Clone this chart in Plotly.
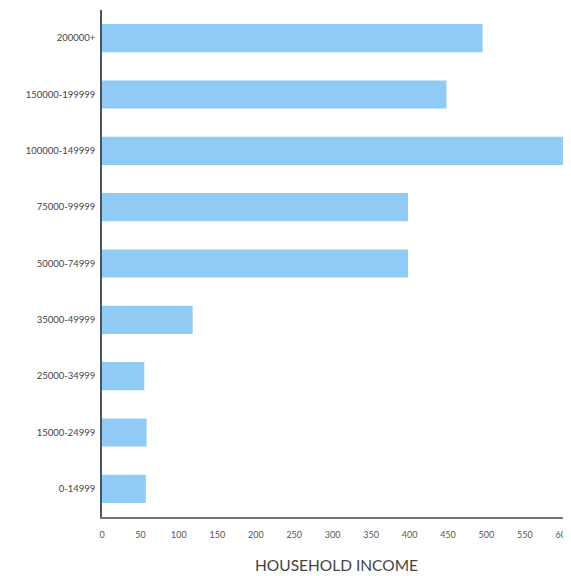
import plotly.graph_objects as go

categories = ["200000+", "150000-199999", "100000-149999", "75000-99999",
              "50000-74999", "35000-49999", "25000-34999", "15000-24999", "0-14999"]
values = [495, 448, 650, 398, 398, 118, 55, 58, 57]
x_ticks = [0, 50, 100, 150, 200, 250, 300, 350, 400, 450, 500, 550, 600]

fig = go.Figure(go.Bar(
    y=categories, x=values, orientation="h",
    marker=dict(color="#8FCBF4", line=dict(width=0)),
))

fig.update_layout(
    width=563, height=568,
    margin=dict(l=94, r=0, t=2, b=59),
    paper_bgcolor="white", plot_bgcolor="white",
    bargap=0.5,
    showlegend=False,
    font=dict(family="Lato, sans-serif", color="#444"),
)
fig.update_yaxes(
    categoryorder="array", categoryarray=categories[::-1],
    showline=True, linecolor="#4a5560", linewidth=1.5,
    showgrid=False, ticks="", tickfont=dict(size=9.5, color="#444"),
    ticklabelstandoff=3, automargin=False,
)
fig.update_xaxes(
    range=[0, 610], tickvals=x_ticks,
    showline=True, linecolor="#777", linewidth=2,
    showgrid=False, zeroline=False, ticks="",
    tickfont=dict(size=9, color="#555"), automargin=False,
    ticklabelstandoff=8, ticklabeloverflow="allow",
    title=dict(text="HOUSEHOLD INCOME", font=dict(size=15.5, color="#444"), standoff=21),
)

fig.write_html("out.html")
